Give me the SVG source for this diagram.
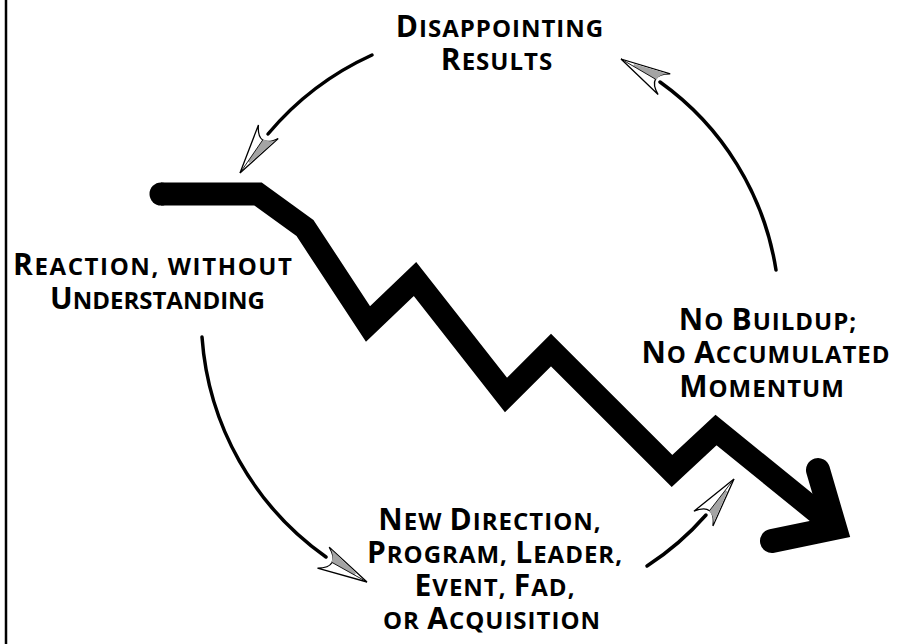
<svg xmlns="http://www.w3.org/2000/svg" xmlns:xlink="http://www.w3.org/1999/xlink" width="918" height="644" viewBox="0 0 918 644">
  <style>
    .lbl { font-family: "Open Sans", "Liberation Sans", sans-serif; font-weight: 700; fill: #000; text-anchor: middle; letter-spacing: 1px; }
    .cap { font-size: 30px; }
    .sc { font-size: 24px; }
    .arc { fill: none; stroke: #000; stroke-width: 3.5; stroke-linecap: round; }
    .trend { fill: none; stroke: #000; stroke-width: 23; stroke-linejoin: miter; stroke-miterlimit: 10; }
  </style>
  <defs>
    <!-- quill-style arrowhead, tip at origin, pointing along +x -->
    <g id="head">
      <path d="M0,0 L-50,-12 C-43,-8 -40,-4 -40,0 C-40,4 -43,8 -50,12 Z" fill="#fff" stroke="#000" stroke-width="1.3" stroke-linejoin="miter"/>
      <path d="M-14,-2.5 L-48,-11 C-43,-8 -41,-4 -41,0 L-14,0 Z" fill="#a4a4a4"/>
      <path d="M0,0 L-40,0" stroke="#000" stroke-width="0.8"/>
    </g>
  </defs>

  <rect width="918" height="644" fill="#fff"/>

  <!-- frame edge -->
  <line x1="6" y1="0" x2="6" y2="644" stroke="#000" stroke-width="2.5"/>

  <!-- falling trend line -->
  <g id="trend">
    <path class="trend" d="M161,194 L258,194 L305,228 L368,324 L415,279 L506,395 L551,350 L672,471 L716,430 L833,525"/>
    <circle cx="161" cy="194" r="11.5" fill="#000"/>
    <path d="M818,470 L835,528 L772,541" fill="none" stroke="#000" stroke-width="24" stroke-linejoin="miter" stroke-linecap="round"/>
  </g>

  <!-- cycle connectors -->
  <g id="connectors">
    <path class="arc" d="M372,55 A295,295 0 0 0 268,134"/>
    <use xlink:href="#head" transform="translate(240,173) rotate(124.5)"/>

    <path class="arc" d="M202,337 A295,295 0 0 0 326,557"/>
    <use xlink:href="#head" transform="translate(367,582) rotate(29.2)"/>

    <path class="arc" d="M647,566 A285,285 0 0 0 706,515"/>
    <use xlink:href="#head" transform="translate(734,479) rotate(-52.3) scale(1,-1)"/>

    <path class="arc" d="M776,270 A285,285 0 0 0 660,82"/>
    <use xlink:href="#head" transform="translate(621,59) rotate(-149.7) scale(1,-1)"/>
  </g>

  <g id="disappointing-results" class="lbl">
    <text x="500" y="37"><tspan class="cap">D</tspan><tspan class="sc">ISAPPOINTING</tspan></text>
    <text x="497" y="70"><tspan class="cap">R</tspan><tspan class="sc">ESULTS</tspan></text>
  </g>

  <g id="reaction" class="lbl">
    <text x="153" y="275" textLength="280" lengthAdjust="spacing"><tspan class="cap">R</tspan><tspan class="sc">EACTION, WITHOUT</tspan></text>
    <text x="158" y="309" textLength="216" lengthAdjust="spacing"><tspan class="cap">U</tspan><tspan class="sc">NDERSTANDING</tspan></text>
  </g>

  <g id="no-buildup" class="lbl">
    <text x="768" y="330"><tspan class="cap">N</tspan><tspan class="sc">O </tspan><tspan class="cap">B</tspan><tspan class="sc">UILDUP;</tspan></text>
    <text x="766" y="363"><tspan class="cap">N</tspan><tspan class="sc">O </tspan><tspan class="cap">A</tspan><tspan class="sc">CCUMULATED</tspan></text>
    <text x="762" y="397"><tspan class="cap">M</tspan><tspan class="sc">OMENTUM</tspan></text>
  </g>

  <g id="new-direction" class="lbl">
    <text x="490" y="530"><tspan class="cap">N</tspan><tspan class="sc">EW </tspan><tspan class="cap">D</tspan><tspan class="sc">IRECTION,</tspan></text>
    <text x="495" y="563"><tspan class="cap">P</tspan><tspan class="sc">ROGRAM, </tspan><tspan class="cap">L</tspan><tspan class="sc">EADER,</tspan></text>
    <text x="495" y="596"><tspan class="cap">E</tspan><tspan class="sc">VENT, </tspan><tspan class="cap">F</tspan><tspan class="sc">AD,</tspan></text>
    <text x="492" y="629"><tspan class="sc">OR </tspan><tspan class="cap">A</tspan><tspan class="sc">CQUISITION</tspan></text>
  </g>
</svg>
